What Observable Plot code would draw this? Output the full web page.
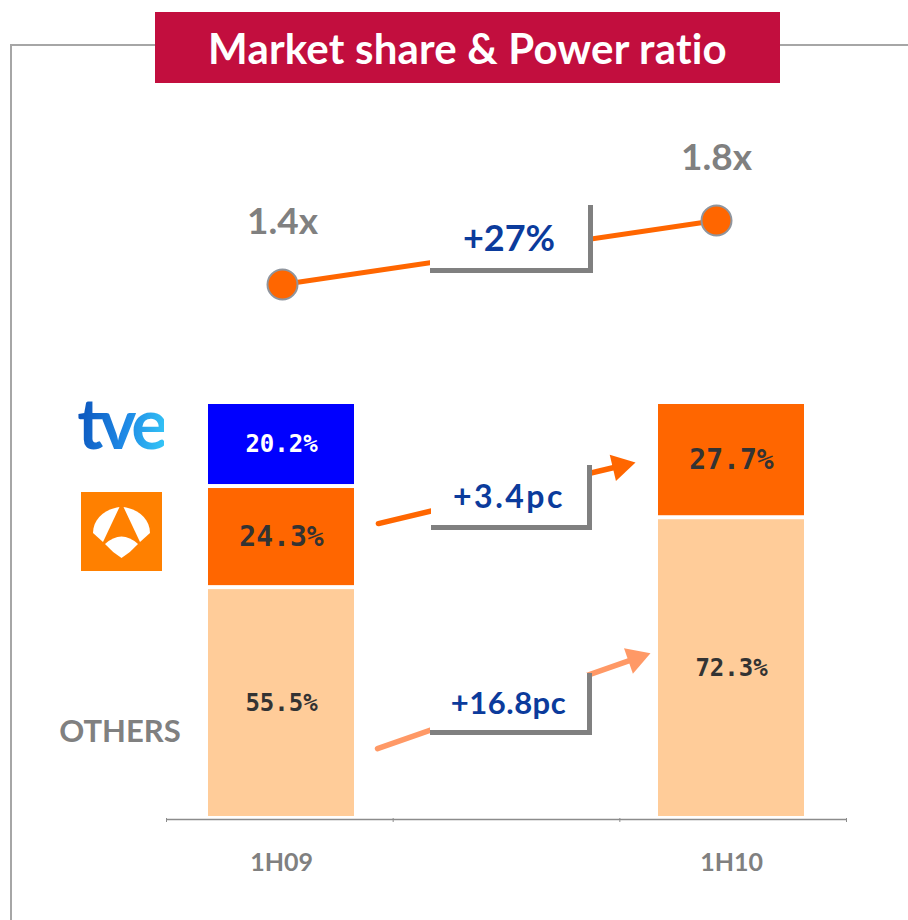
<!DOCTYPE html>
<html><head><meta charset="utf-8">
<script src="https://cdn.jsdelivr.net/npm/d3@7"></script>
<script src="https://cdn.jsdelivr.net/npm/@observablehq/plot@0.6"></script>
<style>
html,body{margin:0;padding:0;background:#fff;overflow:hidden}
#root{position:relative;width:908px;height:920px;font-family:Lato,"Open Sans",sans-serif}
#root svg{position:absolute;left:0;top:0}
.frame{position:absolute;left:10px;top:44px;width:898px;height:880px;border-top:2px solid #a6a6a6;border-left:2px solid #a6a6a6;box-sizing:border-box}
.banner{position:absolute;left:155px;top:12px;width:625px;height:71px;background:#C20E3E;color:#fff;font:700 42px Lato,sans-serif;display:flex;align-items:center;justify-content:center;letter-spacing:0.2px}
.callout{position:absolute;background:#fff;border-right:5px solid #808080;border-bottom:5px solid #808080;display:flex;align-items:center;justify-content:center;color:#0B3B9C;font-family:Lato,sans-serif;font-weight:700}
.tve{position:absolute;left:121px;top:422px;transform:translate(-50%,-50%);font:700 70px Lato,sans-serif;letter-spacing:-4px;background:linear-gradient(100deg,#0a50b8 0%,#1e88e5 55%,#35c8f7 100%);-webkit-background-clip:text;background-clip:text;color:transparent;line-height:1}
.a3{position:absolute;left:81px;top:492px;width:81px;height:79px;background:#FF8000}
.a3 svg{position:static}
.others{position:absolute;left:120px;top:730px;transform:translate(-50%,-50%);font:700 31px Lato,sans-serif;color:#808080}
</style></head>
<body><div id="root"></div>
<script>
// ---- data ----
const periods = ["1H09", "1H10"];
const slots = ["1H09", "", "1H10"];
const series = ["Others", "Antena 3", "TVE"];
const sharesOthers = [55.5, 72.3];
const sharesAntena3 = [24.3, 27.7];
const sharesTVE = [20.2, 0];
const powerRatio = [1.4, 1.8];
const changeLabels = ["+27%", "+3.4pc", "+16.8pc"];
// change arrows (x in slot units, y in market share %)
const arrowSeries = ["Antena 3", "Others"];
const arrowX1 = [0.935, 0.931];
const arrowY1 = [70.9, 16.8];
const arrowX2 = [2.069, 2.135];
const arrowY2 = [85.6, 39.7];

// ---- tables ----
const rows = periods.flatMap((p, i) => [
  {period: p, series: "Others", share: sharesOthers[i]},
  {period: p, series: "Antena 3", share: sharesAntena3[i]},
  {period: p, series: "TVE", share: sharesTVE[i]}
]).filter(d => d.share > 0);
const power = periods.map((p, i) => ({period: p, ratio: powerRatio[i]}));

const W = 908, H = 920, ML = 166, MR = 62, MT = 402, MB = 102;
const root = document.getElementById("root");
const fmt = v => v.toFixed(1) + "%";

const frame = document.createElement("div"); frame.className = "frame"; root.appendChild(frame);

// ---- stacked bars ----
const lbl = (name, fill, size) => Plot.text(rows, Plot.stackY({
  x: "period", y: "share", z: "series", order: series,
  text: d => d.series === name ? fmt(d.share) : null,
  fill, fontSize: size, fontWeight: "bold", fontFamily: "DejaVu Sans Mono", letterSpacing: 1
}));
const bars = Plot.plot({
  width: W, height: H, marginLeft: ML, marginRight: MR, marginTop: MT, marginBottom: MB,
  style: {background: "transparent", overflow: "visible"},
  x: {domain: slots, paddingInner: 0.35, paddingOuter: 0.18, axis: null},
  y: {domain: [0, 100], axis: null},
  color: {domain: series, range: ["#FFCC99", "#FF6600", "#0000FF"]},
  marks: [
    Plot.barY(rows, {x: "period", y: "share", fill: "series", order: series, insetTop: 2, insetBottom: 2}),
    lbl("TVE", "white", 24),
    lbl("Antena 3", "#333333", 28),
    lbl("Others", "#333333", 24),
    Plot.text(periods, {x: d => d, frameAnchor: "bottom", dy: 52, fontFamily: "Lato", fontWeight: "bold", fontSize: 25, fill: "#808080"})
  ]
});
root.appendChild(bars);

// ---- axis + change arrows ----
const ax = d3.scaleLinear([0, 3], [ML, W - MR]);
const ay = d3.scaleLinear([0, 100], [H - MB, MT]);
const arrows = arrowSeries.map((s, i) => {
  const px1 = ax(arrowX1[i]), py1 = ay(arrowY1[i]), px2 = ax(arrowX2[i]), py2 = ay(arrowY2[i]);
  const dx = px2 - px1, dy = py2 - py1, len = Math.hypot(dx, dy);
  const cx = px2 - dx / len * 15.5, cy = py2 - dy / len * 15.5;
  return {series: s, x1: arrowX1[i], y1: arrowY1[i], hx: ax.invert(cx), hy: ay.invert(cy),
          angle: Math.atan2(dy, dx) * 180 / Math.PI + 90};
});
const anno = Plot.plot({
  width: W, height: H, marginLeft: ML, marginRight: MR, marginTop: MT, marginBottom: MB,
  style: {background: "transparent", overflow: "visible"},
  x: {domain: [0, 3], axis: null},
  y: {domain: [0, 100], axis: null},
  color: {domain: arrowSeries, range: ["#FF6600", "#FF9966"]},
  marks: [
    Plot.ruleY([0], {stroke: "#8c8c8c", strokeWidth: 1.5, dy: 1}),
    Plot.ruleX([0, 1, 2, 3], {x: d => d, y1: 0, y2: 0, insetBottom: -4, stroke: "#8c8c8c"}),
    Plot.link(arrows, {x1: "x1", y1: "y1", x2: "hx", y2: "hy", stroke: "series", strokeWidth: 5.5, strokeLinecap: "round"}),
    Plot.dot(arrows, {x: "hx", y: "hy", symbol: "triangle", r: 10, rotate: "angle", fill: "series", stroke: "none"})
  ]
});
root.appendChild(anno);

// ---- power ratio ----
const pw = Plot.plot({
  width: W, height: H,
  style: {background: "transparent", overflow: "visible"},
  x: {type: "point", domain: periods, range: [282, 716], padding: 0, axis: null},
  y: {domain: [1.4, 1.8], range: [284, 220], axis: null},
  marks: [
    Plot.line(power, {x: "period", y: "ratio", stroke: "#FF6600", strokeWidth: 5}),
    Plot.dot(power, {x: "period", y: "ratio", r: 15, fill: "#FF6600", stroke: "#8F959E", strokeWidth: 2}),
    Plot.text(power, {x: "period", y: "ratio", text: d => d.ratio.toFixed(1) + "x", dy: -62,
      fontFamily: "Lato", fontWeight: "bold", fontSize: 37, letterSpacing: 2.5, fill: "#808080"})
  ]
});
root.appendChild(pw);

// ---- callouts ----
const callouts = [
  {text: changeLabels[0], left: 430, top: 205, w: 158, h: 63, size: 36, ls: 0},
  {text: changeLabels[1], left: 431, top: 465, w: 156, h: 60, size: 32, ls: 2.5},
  {text: changeLabels[2], left: 430, top: 673, w: 157, h: 57, size: 31, ls: 0.5}
];
callouts.forEach(c => {
  const d = document.createElement("div");
  d.className = "callout";
  Object.assign(d.style, {left: c.left + "px", top: c.top + "px", width: c.w + "px", height: c.h + "px",
    fontSize: c.size + "px", letterSpacing: c.ls + "px"});
  d.textContent = c.text;
  root.appendChild(d);
});

// ---- legend (logos + label) ----
const tve = document.createElement("div"); tve.className = "tve"; tve.textContent = "tve"; root.appendChild(tve);
const a3 = document.createElement("div"); a3.className = "a3";
a3.innerHTML = '<svg width="81" height="79" viewBox="0 0 81 79"><g fill="#fff">' +
  '<path d="M12,41 C12,27 24,17 38.5,15 L22,50 Z"/>' +
  '<path d="M69,41 C69,27 57,17 42.5,15 L59,50 Z"/>' +
  '<path d="M24,52 Q40.5,37 57,52 Q50,60 40.5,66 Q31,60 24,52 Z"/></g></svg>';
root.appendChild(a3);
const oth = document.createElement("div"); oth.className = "others"; oth.textContent = "OTHERS"; root.appendChild(oth);

// ---- title ----
const banner = document.createElement("div"); banner.className = "banner"; banner.textContent = "Market share & Power ratio";
root.appendChild(banner);
</script>
</body></html>
